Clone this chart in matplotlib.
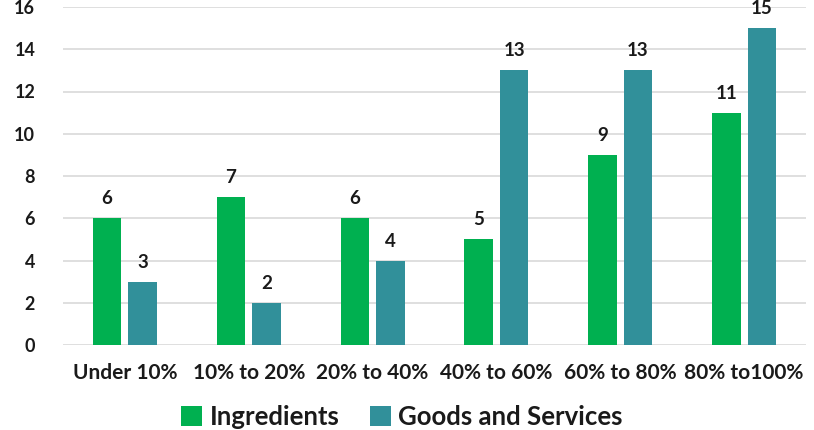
import matplotlib.pyplot as plt
import numpy as np

# Category labels and counts for each series
categories = ["Under 10%", "10% to 20%", "20% to 40%", "40% to 60%", "60% to 80%", "80% to100%"]
ingredients = [6, 7, 6, 5, 9, 11]
goods_services = [3, 2, 4, 13, 13, 15]

green = "#00B050"
teal = "#31909A"

plt.rcParams["font.family"] = ["Lato", "DejaVu Sans"]
plt.rcParams["font.weight"] = "bold"

fig = plt.figure(figsize=(8.14, 4.30), dpi=100)
ax = fig.add_axes([63 / 814, 85 / 430, 743 / 814, 338 / 430])

x = np.arange(len(categories))
width = 0.23
gap = 0.057
offset = (width + gap) / 2

bars1 = ax.bar(x - offset, ingredients, width, color=green, label="Ingredients", zorder=3)
bars2 = ax.bar(x + offset, goods_services, width, color=teal, label="Goods and Services", zorder=3)

# Value labels above each bar
for bars, vals in ((bars1, ingredients), (bars2, goods_services)):
    for b, v in zip(bars, vals):
        ax.annotate(str(v), (b.get_x() + b.get_width() / 2, v), xytext=(0, 10),
                    textcoords="offset points", ha="center", va="baseline",
                    fontsize=13.5, fontweight="bold", color="#1a1a1a",
                    annotation_clip=False)

ax.set_xlim(-0.5, len(categories) - 0.5)
ax.set_ylim(0, 16)
ax.set_yticks(range(0, 17, 2))
ax.set_xticks(x)
ax.set_xticklabels(categories)
ax.tick_params(axis="both", length=0, colors="#1a1a1a")
ax.tick_params(axis="y", pad=20, labelsize=13)
ax.tick_params(axis="x", pad=13, labelsize=15)
for lbl in ax.get_xticklabels() + ax.get_yticklabels():
    lbl.set_fontweight("bold")

ax.grid(axis="y", color="#d9d9d9", linewidth=1.2, zorder=0)
for s in ax.spines.values():
    s.set_visible(False)

leg = fig.legend(handles=[bars1, bars2], loc="center", bbox_to_anchor=(0.494, 0.03),
                 ncol=2, frameon=False, prop={"size": 18.5, "weight": "bold"},
                 handlelength=0.8, handleheight=0.8, handletextpad=0.3, columnspacing=1.2,
                 borderpad=0)
for t in leg.get_texts():
    t.set_color("#1a1a1a")

fig.savefig("out.png", dpi=100)
